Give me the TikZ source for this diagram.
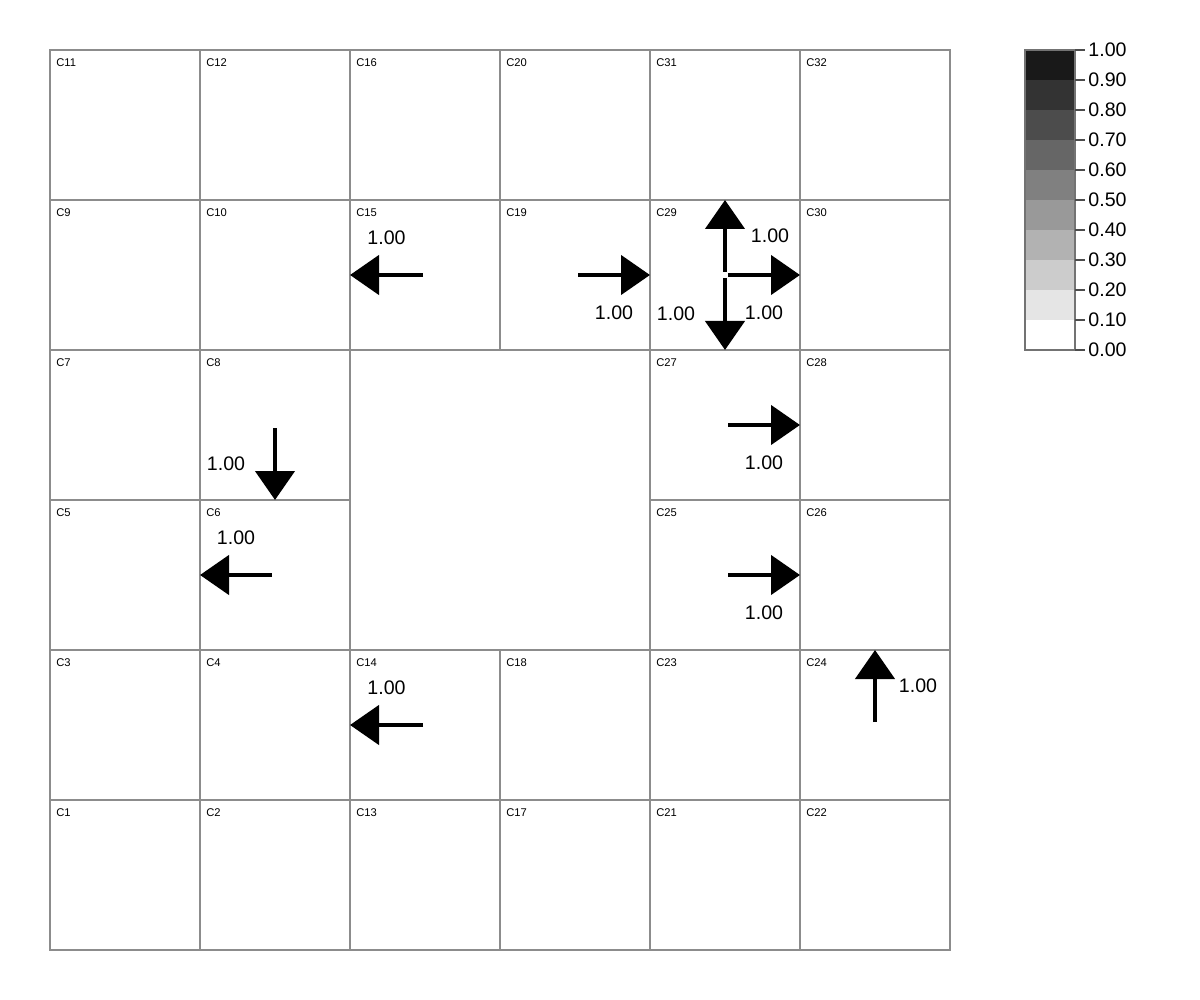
\documentclass[tikz,border=0pt]{standalone}
\usepackage{fontspec}
\setmainfont{Liberation Sans}
\usetikzlibrary{calc,positioning,arrows.meta}

\tikzset{
    cell/.style={draw=black!45, line width=1pt, minimum size=75pt, inner sep=0pt, outer sep=0pt},
    cellname/.style={anchor=north west, inner sep=0pt, xshift=3pt, yshift=-4pt, font=\fontsize{5.6}{6}\selectfont},
    flux/.style={line width=2.25pt, -{Triangle[length=14.5pt,width=19.5pt]}},
    fluxlab/.style={font=\fontsize{9.8}{11}\selectfont, inner sep=0pt},
    leglab/.style={anchor=west, inner sep=0pt, font=\fontsize{9.8}{11}\selectfont}
}

\begin{document}
\begin{tikzpicture}[x=0.5pt, y=-0.5pt]
    \useasboundingbox (0,0) rectangle (1200,1000);

    % Grid of cells (name/column/row)
    \foreach \nm/\col/\row in {11/0/0,12/1/0,16/2/0,20/3/0,31/4/0,32/5/0,
                              9/0/1,10/1/1,15/2/1,19/3/1,29/4/1,30/5/1,
                              7/0/2,8/1/2,27/4/2,28/5/2,
                              5/0/3,6/1/3,25/4/3,26/5/3,
                              3/0/4,4/1/4,14/2/4,18/3/4,23/4/4,24/5/4,
                              1/0/5,2/1/5,13/2/5,17/3/5,21/4/5,22/5/5} {
        \node[cell] (c\nm) at ({125+150*\col},{125+150*\row}) {};
        \node[cellname] (n\nm) at (c\nm.north west) {C\nm};
    };
    % merged block in the middle
    \node[cell, minimum size=150pt] (hole) at (500,500) {};

    % Flux arrows
    \draw[flux] ([xshift=-1pt]c15.center) -- (c15.west) node[fluxlab, midway, yshift=18.5pt] (f15) {1.00};
    \draw[flux] ([xshift=1.5pt]c19.center) -- (c19.east) node[fluxlab, midway, yshift=-19pt] (f19) {1.00};
    \draw[flux] ([yshift=1.5pt]c29.center) -- (c29.north) node[fluxlab, midway, xshift=22.5pt] (f29a) {1.00};
    \draw[flux] ([xshift=1.5pt]c29.center) -- (c29.east) node[fluxlab, midway, yshift=-19pt] (f29b) {1.00};
    \draw[flux] ([yshift=-1.5pt]c29.center) -- (c29.south) node[fluxlab, midway, xshift=-24.5pt] (f29c) {1.00};
    \draw[flux] ([yshift=-1.5pt]c8.center) -- (c8.south) node[fluxlab, midway, xshift=-24.5pt] (f8) {1.00};
    \draw[flux] ([xshift=-1.5pt]c6.center) -- (c6.west) node[fluxlab, midway, yshift=18.5pt] (f6) {1.00};
    \draw[flux] ([xshift=1.5pt]c27.center) -- (c27.east) node[fluxlab, midway, yshift=-19pt] (f27) {1.00};
    \draw[flux] ([xshift=1.5pt]c25.center) -- (c25.east) node[fluxlab, midway, yshift=-19pt] (f25) {1.00};
    \draw[flux] ([xshift=-1pt]c14.center) -- (c14.west) node[fluxlab, midway, yshift=18.5pt] (f14) {1.00};
    \draw[flux] ([yshift=1.5pt]c24.center) -- (c24.north) node[fluxlab, midway, xshift=21.5pt] (f24) {1.00};

    % Legend
    \foreach \i in {0,...,9} {
        \fill[black!\i0] (1025,{350-30*(\i+1)}) rectangle (1075,{350-30*\i});
    };
    \draw[black!55, line width=0.6pt] (1025,50) rectangle (1075,350);
    \foreach \v [count=\k from 0] in {1.00,0.90,0.80,0.70,0.60,0.50,0.40,0.30,0.20,0.10,0.00} {
        \draw[black!70, line width=0.6pt] (1075,{50+30*\k}) -- (1085,{50+30*\k});
        \node[leglab] (tick\k) at (1088,{50+30*\k}) {\v};
    };
\end{tikzpicture}
\end{document}
